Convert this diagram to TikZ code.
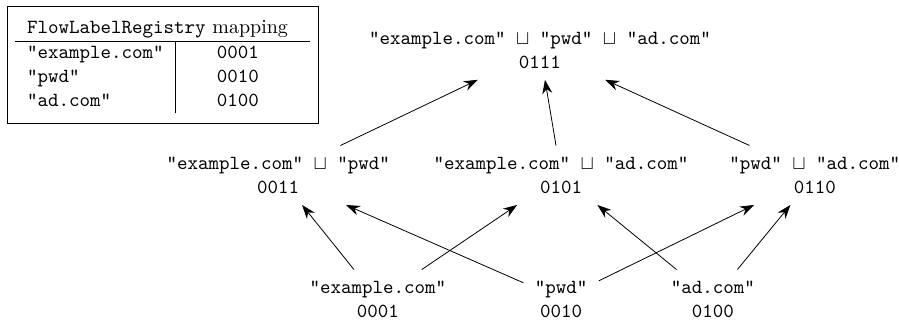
\documentclass[tikz,border=0pt]{standalone}
\usetikzlibrary{arrows.meta}
\begin{document}
\begin{tikzpicture}[lat/.style={align=center,font=\ttfamily,inner sep=5.5pt},
  up/.style={-{Stealth[length=7pt,width=5pt]}}]
\useasboundingbox (0,0) rectangle (15.80,5.66);
\node[draw,inner xsep=4pt,inner ysep=5pt,anchor=north west] (reg) at (0.12,5.55) {%
\begin{tabular}{l|c@{\hspace{11pt}}}
\multicolumn{2}{l@{\hspace{11pt}}}{\texttt{FlowLabelRegistry} mapping}\\ \hline
\texttt{"example.com"} & \texttt{0001}\\
\texttt{"pwd"} & \texttt{0010}\\
\texttt{"ad.com"} & \texttt{0100}
\end{tabular}};
\node[lat] (top) at (9.49,4.78) {"example.com" $\sqcup$ "pwd" $\sqcup$ "ad.com"\\0111};
\node[lat] (ep) at (4.89,2.58) {"example.com" $\sqcup$ "pwd"\\0011};
\node[lat] (ea) at (9.86,2.58) {"example.com" $\sqcup$ "ad.com"\\0101};
\node[lat] (pa) at (14.32,2.58) {"pwd" $\sqcup$ "ad.com"\\0110};
\node[lat] (e) at (6.64,0.40) {"example.com"\\0001};
\node[lat] (p) at (9.86,0.40) {"pwd"\\0010};
\node[lat] (a) at (12.53,0.40) {"ad.com"\\0100};
\foreach \s/\t in {ep/top,ea/top,pa/top,e/ep,e/ea,p/ep,p/pa,a/ea,a/pa}
  \draw[up] (\s)--(\t);
\end{tikzpicture}
\end{document}
